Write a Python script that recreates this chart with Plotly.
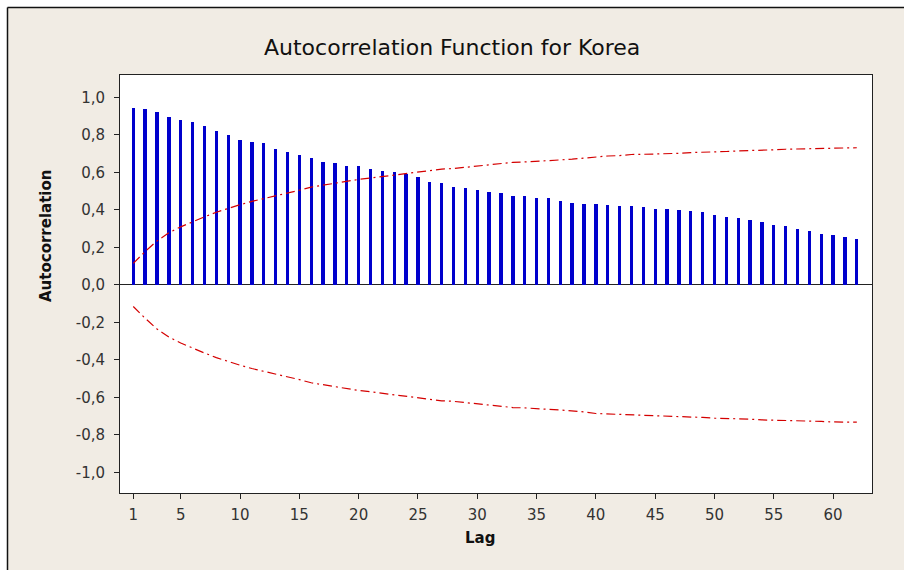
import plotly.graph_objects as go

# ---- data ----
lags = list(range(1, 63))
acf_values = [0.946, 0.937, 0.921, 0.896, 0.880, 0.868, 0.846, 0.820, 0.800, 0.775,
              0.760, 0.759, 0.725, 0.708, 0.693, 0.676, 0.658, 0.649, 0.635, 0.634,
              0.617, 0.608, 0.601, 0.590, 0.574, 0.551, 0.542, 0.524, 0.516, 0.507,
              0.498, 0.489, 0.475, 0.473, 0.464, 0.463, 0.448, 0.439, 0.430, 0.430,
              0.429, 0.421, 0.420, 0.414, 0.405, 0.404, 0.398, 0.397, 0.389, 0.372,
              0.363, 0.356, 0.347, 0.338, 0.322, 0.313, 0.297, 0.288, 0.270, 0.269,
              0.254, 0.245]
upper_limit = [0.115, 0.178, 0.235, 0.278, 0.310, 0.338, 0.363, 0.388, 0.410, 0.428,
               0.446, 0.460, 0.477, 0.491, 0.505, 0.522, 0.533, 0.542, 0.554, 0.563,
               0.570, 0.578, 0.589, 0.595, 0.601, 0.611, 0.618, 0.621, 0.628, 0.636,
               0.644, 0.649, 0.654, 0.656, 0.661, 0.664, 0.667, 0.671, 0.677, 0.686,
               0.688, 0.690, 0.696, 0.697, 0.698, 0.700, 0.702, 0.706, 0.707, 0.711,
               0.712, 0.715, 0.716, 0.720, 0.721, 0.724, 0.725, 0.727, 0.728, 0.731,
               0.731, 0.732]
lower_limit = [-v for v in upper_limit]

x_ticks = [1, 5, 10, 15, 20, 25, 30, 35, 40, 45, 50, 55, 60]
y_ticks = [-1.0, -0.8, -0.6, -0.4, -0.2, 0.0, 0.2, 0.4, 0.6, 0.8, 1.0]
y_tick_labels = ["-1,0", "-0,8", "-0,6", "-0,4", "-0,2", "0,0", "0,2", "0,4", "0,6", "0,8", "1,0"]

title_text = "Autocorrelation Function for Korea"
x_title = "Lag"
y_title = "Autocorrelation"

# ---- layout geometry (pixels) ----
W, H = 904, 570
L, R, T, B = 120, 32, 75, 77
pw, ph = W - L - R, H - T - B

def px(p):
    return (p - L) / pw

def py(p):
    return (H - B - p) / ph

FONT = "DejaVu Sans"
BG = "#F1ECE4"

fig = go.Figure()
fig.add_trace(go.Bar(x=lags, y=acf_values, width=0.28,
                     marker=dict(color="#0000CC", line=dict(width=0)),
                     showlegend=False, hoverinfo="x+y"))
for lim in (upper_limit, lower_limit):
    fig.add_trace(go.Scatter(x=lags, y=lim, mode="lines",
                             line=dict(color="#D40000", width=1.2, dash="9px,4px,2px,4px"),
                             showlegend=False))

fig.update_layout(
    width=W, height=H,
    margin=dict(l=L, r=R, t=T, b=B, pad=0),
    paper_bgcolor=BG, plot_bgcolor="white",
    font=dict(family=FONT, size=15, color="#222"),
    bargap=0,
    xaxis=dict(range=[-0.12, 63.28], tickmode="array", tickvals=x_ticks,
               ticks="outside", ticklen=5, tickcolor="#222",
               showline=True, linecolor="#222", linewidth=1, mirror=True,
               showgrid=False, zeroline=False, ticklabelstandoff=3,
               tickfont=dict(family=FONT, size=15, color="#333")),
    yaxis=dict(range=[-1.11, 1.12], tickmode="array", tickvals=y_ticks,
               ticktext=y_tick_labels,
               ticks="outside", ticklen=5, tickcolor="#222",
               showline=True, linecolor="#222", linewidth=1, mirror=True,
               showgrid=False, zeroline=True, zerolinecolor="#222", zerolinewidth=1,
               ticklabelstandoff=6,
               tickfont=dict(family=FONT, size=15, color="#333")),
    annotations=[
        dict(text=title_text, xref="paper", yref="paper", x=px(452), y=py(47),
             xanchor="center", yanchor="middle", showarrow=False,
             font=dict(family=FONT, size=22, color="#111")),
        dict(text="<b>" + y_title + "</b>", xref="paper", yref="paper",
             x=px(46), y=py(236), textangle=-90, xanchor="center", yanchor="middle",
             showarrow=False, font=dict(family=FONT, size=15, color="#111")),
        dict(text="<b>" + x_title + "</b>", xref="paper", yref="paper",
             x=px(480), y=py(538), xanchor="center", yanchor="middle",
             showarrow=False, font=dict(family=FONT, size=15, color="#111")),
    ],
    shapes=[
        dict(type="rect", xref="paper", yref="paper", x0=px(0), x1=px(7), y0=py(570), y1=py(0),
             fillcolor="white", line=dict(width=0), layer="above"),
        dict(type="rect", xref="paper", yref="paper", x0=px(0), x1=px(904), y0=py(7), y1=py(0),
             fillcolor="white", line=dict(width=0), layer="above"),
        dict(type="line", xref="paper", yref="paper", x0=px(7.5), x1=px(7.5), y0=py(570), y1=py(7.5),
             line=dict(color="#111", width=1.5), layer="above"),
        dict(type="line", xref="paper", yref="paper", x0=px(7.5), x1=px(904), y0=py(7.5), y1=py(7.5),
             line=dict(color="#111", width=1.5), layer="above"),
    ],
)

fig.write_html("out.html")
